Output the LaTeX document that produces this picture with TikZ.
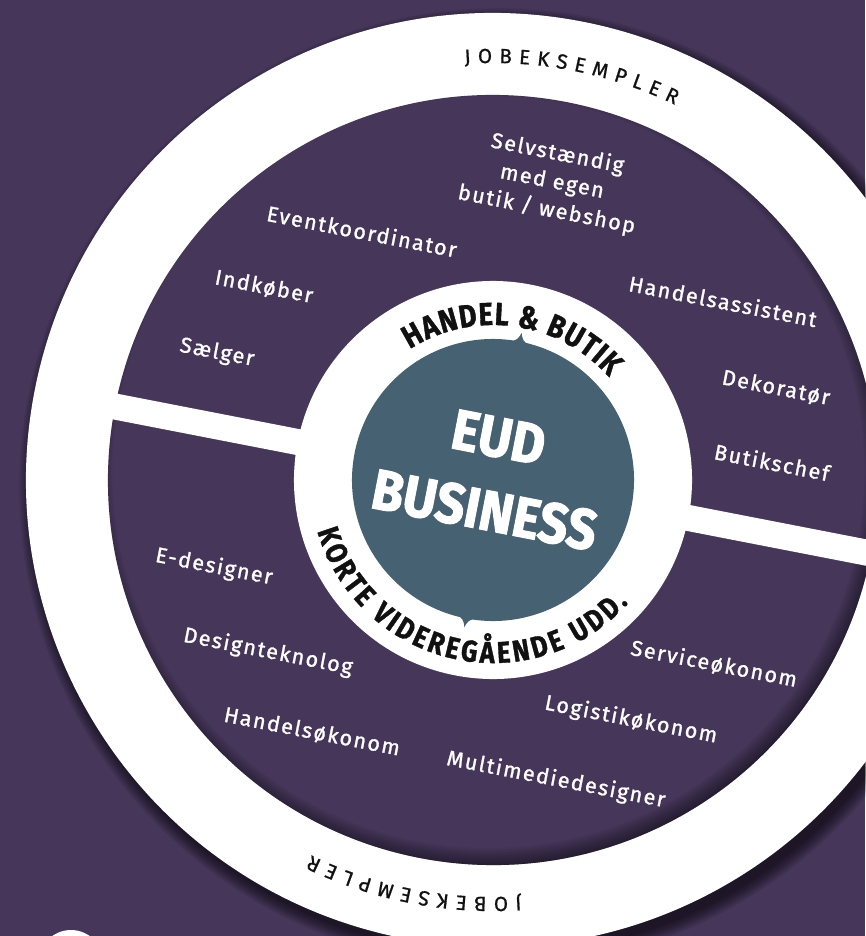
\documentclass[tikz,border=0pt]{standalone}
\usepackage{fontspec}
\setmainfont{Fira Sans}
\newfontfamily\labelfont{Fira Sans}[LetterSpace=7.5,FakeBold=1.2]
\newfontfamily\ringfont{Fira Sans}[FakeStretch=0.85,FakeBold=1.2]
\newfontfamily\centerfont{Fira Sans}[FakeStretch=0.9,FakeBold=1.8]
\newfontfamily\jobfont{Fira Sans}[FakeBold=0.8]
\usetikzlibrary{calc}
\definecolor{bgpurple}{RGB}{70,54,90}
\definecolor{eudblue}{RGB}{69,97,114}
\definecolor{ringtext}{RGB}{17,17,17}
\newlength\chw
\newlength\rtotd
\newlength\raccd
\newcommand\ringstyle{\fontsize{30}{30}\selectfont\ringfont\bfseries}
\newcommand\ringstyletop{\fontsize{32}{32}\selectfont\ringfont\bfseries}
\newcommand\jobstyle{\fontsize{20.5}{20.5}\selectfont\jobfont}
% precompute angles (outside the picture): #1 list, #2 radius, #3 centre angle,
% #4 tracking (pt), #5 direction, #6 name, #7 font
\newcommand\prepring[7]{%
  \global\rtotd=0pt\relax
  \foreach \c in {#1} {\setbox0=\hbox{#7\c}\global\advance\rtotd by \wd0\relax
    \global\advance\rtotd by #4pt\relax}%
  \global\advance\rtotd by -#4pt\relax
  \global\raccd=0pt\relax
  \foreach \c [count=\k] in {#1} {%
    \setbox0=\hbox{#7\c}\chw=\wd0\relax
    \pgfmathsetmacro{\rang}{#3+(#5)*(-0.5*\rtotd+\raccd+0.5*\chw)/#2*57.29578}%
    \expandafter\xdef\csname #6a\k\endcsname{\rang}%
    \global\advance\raccd by \chw\relax
    \global\advance\raccd by #4pt\relax
  }%
}
% place the letters: #1 list, #2 radius, #3 direction, #4 name, #5 font
\newcommand\drawring[5]{%
  \foreach \c [count=\k] in {#1} {%
    \edef\rang{\csname #4a\k\endcsname}%
    \node[inner sep=0pt,anchor=base,text=ringtext,rotate={\rang-11+(#3)*90},font=#5] (#4\k) at (\rang:#2) {\c};%
  }%
}
\tikzset{
  joblabel/.style={text=white,inner sep=0pt,anchor=center,rotate=-11,
    font=\fontsize{21.5}{28.5}\selectfont\labelfont,align=center},
}
\begin{document}%
\prepring{H,A,N,D,E,L,\ ,\&,\ ,B,U,T,I,K}{155}{93}{1}{-1}{hb}{\ringstyletop}%
\prepring{K,O,R,T,E,\ ,V,I,D,E,R,E,G,Å,E,N,D,E,\ ,U,D,D,.}{183}{268}{3.2}{1}{kv}{\ringstyle}%
\prepring{J,O,B,E,K,S,E,M,P,L,E,R}{417}{90}{7}{-1}{jt}{\jobstyle}%
\prepring{J,O,B,E,K,S,E,M,P,L,E,R}{417}{270}{7}{-1}{jb}{\jobstyle}%
\begin{tikzpicture}[x=1pt,y=1pt]
\useasboundingbox (0,0) rectangle (865,-936);
\fill[bgpurple] (0,0) rectangle (865,-936);
\coordinate (C) at (493,-480);
% small white disc, bottom left
\fill[white] (71,-962) circle (32);
% outer drop shadow
\foreach \i in {1,...,12}
  \fill[black,opacity=0.06] ($(C)+(6,-8)$) circle ({467+14-1.2*\i});
\begin{scope}[shift={(493,-480)},rotate=-11]
  \fill[white] (0,0) circle (467);
  \fill[bgpurple] (0,0) circle (385);
  % inner shadow
  \begin{scope}
    \clip (0,0) circle (385);
    \foreach \i in {1,...,14}
      \draw[black,opacity=0.04,line width=3*\i] (-6,7) circle (397);
  \end{scope}
  % divider bar
  \fill[white] (-400,-13) rectangle (400,13);
  % inner white disc and blue core
  \fill[white] (0,0) circle (199);
  \fill[eudblue] (0,0) circle (141);
  \fill[eudblue] (-11,139) .. controls (-4,140) and (-1,145) .. (0,150)
     .. controls (1,145) and (4,140) .. (11,139) -- cycle;
  \fill[eudblue] (11,-139) .. controls (4,-140) and (1,-145) .. (0,-150)
     .. controls (-1,-145) and (-4,-140) .. (-11,-139) -- cycle;
  % curved ring texts
  \drawring{H,A,N,D,E,L,\ ,\&,\ ,B,U,T,I,K}{155}{-1}{hb}{\ringstyletop}
  \drawring{K,O,R,T,E,\ ,V,I,D,E,R,E,G,Å,E,N,D,E,\ ,U,D,D,.}{183}{1}{kv}{\ringstyle}
  \drawring{J,O,B,E,K,S,E,M,P,L,E,R}{417}{-1}{jt}{\jobstyle}
  \drawring{J,O,B,E,K,S,E,M,P,L,E,R}{417}{-1}{jb}{\jobstyle}
\end{scope}
% centre title
\node[text=white,inner sep=0pt,rotate=-11,align=center,
  font=\fontsize{57}{74}\selectfont\centerfont\bfseries] (eud) at (491.5,-474) {EUD\\BUSINESS};
% job labels
\node[joblabel] (selv) at (552,-182) {Selvstændig\\med egen\\butik / webshop};
\node[joblabel] (event) at (362,-231) {Eventkoordinator};
\node[joblabel] (indk) at (264,-287) {Indkøber};
\node[joblabel] (saelg) at (217,-353) {Sælger};
\node[joblabel] (hass) at (723,-301) {Handelsassistent};
\node[joblabel] (deko) at (776,-388) {Dekoratør};
\node[joblabel] (bchef) at (772,-462) {Butikschef};
\node[joblabel] (edes) at (214,-567) {E-designer};
\node[joblabel] (dtek) at (268,-652) {Designteknolog};
\node[joblabel] (hoek) at (312,-732) {Handelsøkonom};
\node[joblabel] (soek) at (714,-664) {Serviceøkonom};
\node[joblabel] (loek) at (631,-720) {Logistikøkonom};
\node[joblabel] (mmd) at (556,-780) {Multimediedesigner};
\end{tikzpicture}
\end{document}
